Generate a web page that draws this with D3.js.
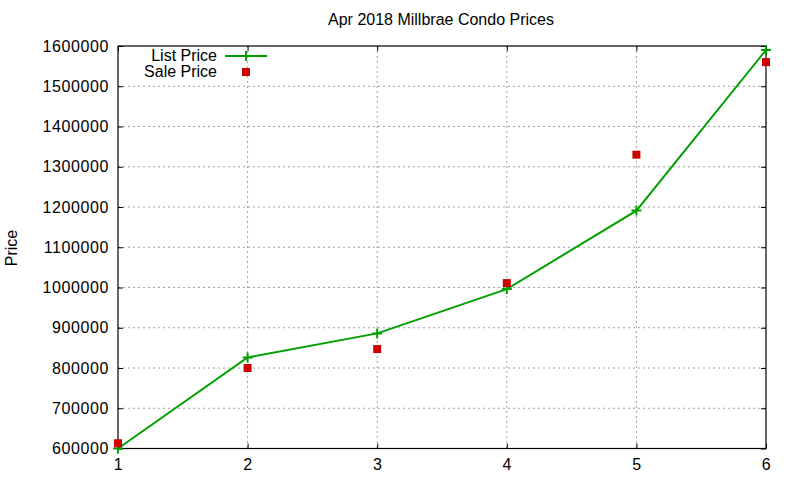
<!DOCTYPE html>
<html><head><meta charset="utf-8">
<script src="https://cdn.jsdelivr.net/npm/d3@7"></script>
<style>
body{margin:0;background:#fff;}
text{font-family:"Liberation Sans",Arial,sans-serif;font-size:16px;fill:#000;}
</style></head>
<body><svg id="c" width="800" height="480"></svg>
<script>
const units = [1, 2, 3, 4, 5, 6];
const listPrice = [600000, 826000, 886000, 996000, 1191000, 1590000];
const salePrice = [613000, 800000, 847000, 1011000, 1330000, 1560000];
const yTicks = [600000, 700000, 800000, 900000, 1000000, 1100000, 1200000, 1300000, 1400000, 1500000, 1600000];
const xTicks = [1, 2, 3, 4, 5, 6];
const title = "Apr 2018 Millbrae Condo Prices";
const yLabel = "Price";
const seriesNames = ["List Price", "Sale Price"];

const svg = d3.select("#c");
const L = 118, R = 766, T = 46, B = 448.5;
const x = d3.scaleLinear().domain([1, 6]).range([L, R]);
const y = d3.scaleLinear().domain([600000, 1600000]).range([B, T]);
const green = "#00a000", red = "#cc0000";

// grid
const g = svg.append("g");
g.selectAll(".gy").data(yTicks.slice(1, -1)).enter().append("line")
  .attr("x1", L).attr("x2", R).attr("y1", d => y(d)).attr("y2", d => y(d))
  .attr("stroke", "#a0a0a0").attr("stroke-width", 1).attr("stroke-dasharray", "2,3");
g.selectAll(".gx").data(xTicks.slice(1, -1)).enter().append("line")
  .attr("y1", T).attr("y2", B).attr("x1", d => x(d)).attr("x2", d => x(d))
  .attr("stroke", "#a0a0a0").attr("stroke-width", 1).attr("stroke-dasharray", "2,3");

// axes
const yAxL = d3.axisLeft(y).tickValues(yTicks).tickSizeInner(-5).tickSizeOuter(0).tickPadding(9).tickFormat(d3.format("d"));
const yAxR = d3.axisRight(y).tickValues(yTicks).tickSizeInner(-5).tickSizeOuter(0).tickFormat("");
const xAxB = d3.axisBottom(x).tickValues(xTicks).tickSizeInner(-5).tickSizeOuter(0).tickPadding(10).tickFormat(d3.format("d"));
const xAxT = d3.axisTop(x).tickValues(xTicks).tickSizeInner(-5).tickSizeOuter(0).tickFormat("");
function style(sel){
  sel.select(".domain").remove();
  sel.selectAll("line").attr("stroke", "#000").attr("stroke-width", 1);
  sel.selectAll("text").attr("font-family", "Liberation Sans, Arial, sans-serif").attr("font-size", 16)
    .attr("letter-spacing", 0.6).attr("fill", "#000");
}
svg.append("g").attr("transform", `translate(${L},0)`).call(yAxL).call(style);
svg.append("g").attr("transform", `translate(${R},0)`).call(yAxR).call(style);
svg.append("g").attr("transform", `translate(0,${B})`).call(xAxB).call(style);
svg.append("g").attr("transform", `translate(0,${T})`).call(xAxT).call(style);

// border
svg.append("rect").attr("x", L).attr("y", T).attr("width", R - L).attr("height", B - T)
  .attr("fill", "none").attr("stroke", "#000").attr("stroke-width", 1.2);

// list price line
const line = d3.line().x((d, i) => x(units[i])).y(d => y(d));
svg.append("path").datum(listPrice).attr("d", line).attr("fill", "none")
  .attr("stroke", green).attr("stroke-width", 2);
function plus(sel, cx, cy){
  sel.append("path").attr("d", `M${cx-5},${cy}H${cx+5}M${cx},${cy-5}V${cy+5}`)
    .attr("stroke", green).attr("stroke-width", 2).attr("fill", "none");
}
listPrice.forEach((v, i) => plus(svg, x(units[i]), y(v)));

// sale price squares
svg.selectAll(".sq").data(salePrice).enter().append("rect")
  .attr("x", (d, i) => x(units[i]) - 4).attr("y", d => y(d) - 4)
  .attr("width", 8).attr("height", 8).attr("fill", red);

// legend
svg.append("text").attr("x", 217).attr("y", 61).attr("text-anchor", "end").text(seriesNames[0]);
svg.append("line").attr("x1", 225).attr("x2", 267).attr("y1", 56).attr("y2", 56)
  .attr("stroke", green).attr("stroke-width", 2);
plus(svg, 246, 56);
svg.append("text").attr("x", 217).attr("y", 77).attr("text-anchor", "end").text(seriesNames[1]);
svg.append("rect").attr("x", 242).attr("y", 68).attr("width", 8).attr("height", 8).attr("fill", red);

// title & y label
svg.append("text").attr("x", 441).attr("y", 25).attr("text-anchor", "middle").text(title);
svg.append("text").attr("transform", "translate(17,248) rotate(-90)").attr("text-anchor", "middle").text(yLabel);
</script></body></html>
